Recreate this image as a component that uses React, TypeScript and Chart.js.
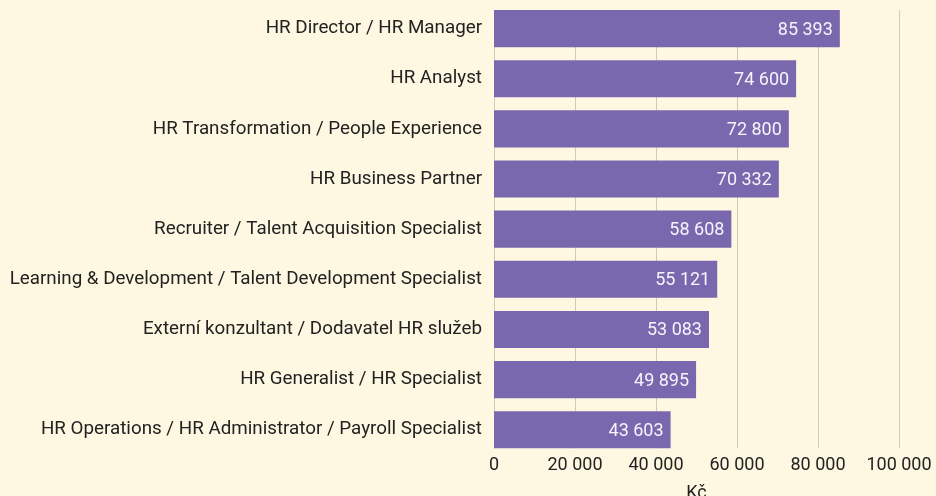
import React, { useEffect, useRef } from "react";
import { Chart, registerables } from "chart.js";

Chart.register(...registerables);

const categories = [
  "HR Director / HR Manager",
  "HR Analyst",
  "HR Transformation / People Experience",
  "HR Business Partner",
  "Recruiter / Talent Acquisition Specialist",
  "Learning & Development / Talent Development Specialist",
  "Externí konzultant / Dodavatel HR služeb",
  "HR Generalist / HR Specialist",
  "HR Operations / HR Administrator / Payroll Specialist",
];
const salaries = [85393, 74600, 72800, 70332, 58608, 55121, 53083, 49895, 43603];
const xTicks = [0, 20000, 40000, 60000, 80000, 100000];
const axisTitle = "Kč";

const FONT = "Roboto";
const BG = "#fef8e2";
const BAR = "#7968ae";
const GRID = "#d2cab2";
const TEXT = "#222222";
const CAT_SIZE = 18.8;
const CAT_PAD = 12;

const fmt = (v: number) => String(Math.round(v)).replace(/\B(?=(\d{3})+(?!\d))/g, " ");

const bgPlugin = {
  id: "bg",
  beforeDraw(chart: any) {
    const { ctx, width, height } = chart;
    ctx.save();
    ctx.fillStyle = BG;
    ctx.fillRect(0, 0, width, height);
    ctx.restore();
  },
};

const gridPlugin = {
  id: "customGrid",
  beforeDatasetsDraw(chart: any) {
    const meta = chart.getDatasetMeta(0);
    const xs = chart.scales.x;
    if (!meta.data.length) return;
    const first: any = meta.data[0];
    const last: any = meta.data[meta.data.length - 1];
    const top = first.y - first.height / 2;
    const bottom = last.y + last.height / 2;
    const ctx = chart.ctx;
    ctx.save();
    ctx.strokeStyle = GRID;
    ctx.lineWidth = 1;
    xTicks.forEach((t) => {
      const x = Math.round(xs.getPixelForValue(t)) + 0.5;
      ctx.beginPath();
      ctx.moveTo(x, top);
      ctx.lineTo(x, bottom);
      ctx.stroke();
    });
    ctx.restore();
  },
};

const labelPlugin = {
  id: "valueLabels",
  afterDatasetsDraw(chart: any) {
    const meta = chart.getDatasetMeta(0);
    const ctx = chart.ctx;
    ctx.save();
    ctx.font = `18px ${FONT}`;
    ctx.fillStyle = "#f6f3fb";
    ctx.textAlign = "right";
    ctx.textBaseline = "middle";
    meta.data.forEach((el: any, i: number) => {
      ctx.fillText(fmt(salaries[i]), el.x - 7, el.y + 1.5);
    });
    ctx.restore();
  },
};

export default function App() {
  const ref = useRef<HTMLCanvasElement>(null);
  useEffect(() => {
    if (!ref.current) return;
    const chart = new Chart(ref.current, {
      type: "bar",
      data: {
        labels: categories,
        datasets: [
          {
            data: salaries,
            backgroundColor: BAR,
            borderWidth: 0,
            barPercentage: 0.74,
            categoryPercentage: 1,
          },
        ],
      },
      options: {
        indexAxis: "y",
        animation: false,
        responsive: false,
        maintainAspectRatio: false,
        layout: { padding: { top: 3.5, left: 10, right: 37, bottom: 0 } },
        plugins: { legend: { display: false }, tooltip: { enabled: false } },
        scales: {
          x: {
            min: 0,
            max: 100000,
            grid: { display: false, drawTicks: false },
            border: { display: false },
            afterBuildTicks: (axis: any) => {
              axis.ticks = xTicks.map((v) => ({ value: v }));
            },
            ticks: {
              padding: 0,
              color: TEXT,
              font: { family: FONT, size: 18 },
              maxRotation: 0,
              callback: (v: any) => fmt(Number(v)),
            },
            title: {
              display: true,
              text: axisTitle,
              color: TEXT,
              font: { family: FONT, size: 18 },
              padding: { top: 6, bottom: 0 },
            },
          },
          y: {
            grid: { display: false, drawTicks: false },
            border: { display: false },
            afterFit: (axis: any) => {
              axis.paddingTop = 0;
              axis.paddingBottom = 0;
              const ctx = axis.ctx;
              ctx.save();
              ctx.font = `${CAT_SIZE}px ${FONT}`;
              let w = 0;
              categories.forEach((c) => {
                w = Math.max(w, ctx.measureText(c).width);
              });
              ctx.restore();
              axis.width = Math.round(w + CAT_PAD);
            },
            ticks: {
              padding: CAT_PAD,
              color: TEXT,
              font: { family: FONT, size: CAT_SIZE },
            },
          },
        },
      },
      plugins: [bgPlugin, gridPlugin, labelPlugin],
    });
    return () => chart.destroy();
  }, []);
  return (
    <div style={{ position: "fixed", left: 0, top: 0, width: 936, height: 496, overflow: "hidden" }}>
      <canvas ref={ref} width={936} height={504} style={{ display: "block" }} />
    </div>
  );
}
